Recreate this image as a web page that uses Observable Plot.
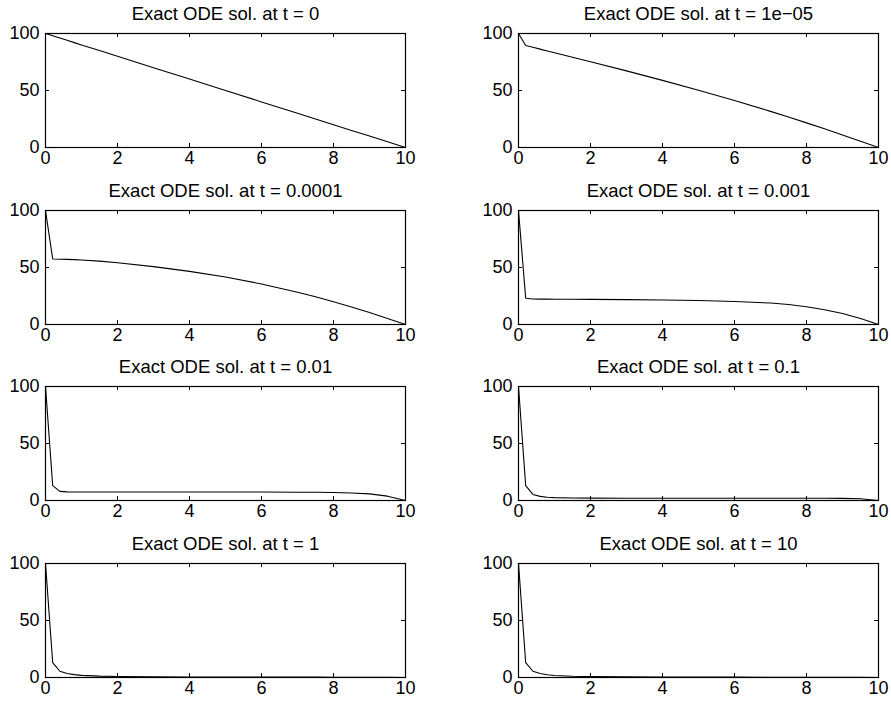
<!DOCTYPE html>
<html><head><meta charset="utf-8">
<script src="https://cdn.jsdelivr.net/npm/d3@7"></script>
<script src="https://cdn.jsdelivr.net/npm/@observablehq/plot@0.6"></script>
<style>
body{margin:0;background:#fff}
#chart{position:relative;width:891px;height:707px;font-family:"Liberation Sans",Arial,Helvetica,sans-serif}
#chart svg{position:absolute}
</style>
</head><body><div id="chart"></div>
<script>
// shared x grid (position along the rod)
const xPos = [0, 0.2, 0.4, 0.6, 0.8, 1, 1.5, 2, 3, 4, 5, 6, 7, 7.5, 8, 8.5, 9, 9.5, 10];

const titles = [
  "Exact ODE sol. at t = 0",
  "Exact ODE sol. at t = 1e\u221205",
  "Exact ODE sol. at t = 0.0001",
  "Exact ODE sol. at t = 0.001",
  "Exact ODE sol. at t = 0.01",
  "Exact ODE sol. at t = 0.1",
  "Exact ODE sol. at t = 1",
  "Exact ODE sol. at t = 10"
];

const u_t0     = [100, 98, 96, 94, 92, 90, 85, 80, 70, 60, 50, 40, 30, 25, 20, 15, 10, 5, 0];
const u_t1em5  = [100, 89.5, 87.9, 86.3, 84.7, 83.1, 79.2, 75.2, 67.2, 58.9, 50.3, 41.3, 31.7, 26.7, 21.6, 16.4, 11, 5.5, 0];
const u_t1em4  = [100, 57.5, 57.3, 57.1, 56.9, 56.6, 55.6, 54.2, 50.8, 46.6, 41.6, 35.6, 28.3, 24.3, 20, 15.4, 10.5, 5.3, 0];
const u_t1em3  = [100, 23, 22.4, 22.3, 22.3, 22.2, 22.1, 22, 21.8, 21.5, 21, 20.2, 18.8, 17.5, 15.6, 13, 9.6, 5.2, 0];
const u_t1em2  = [100, 13, 8, 7.6, 7.5, 7.5, 7.5, 7.5, 7.5, 7.5, 7.5, 7.4, 7.3, 7.2, 7.0, 6.6, 5.8, 3.8, 0];
const u_t1em1  = [100, 13, 5.3, 3.6, 2.9, 2.5, 2.2, 2.1, 2, 2, 2, 2, 2, 2, 2, 2, 1.9, 1.5, 0];
const u_t1     = [100, 13, 5.5, 3.5, 2.5, 1.9, 1.2, 0.9, 0.6, 0.45, 0.4, 0.35, 0.3, 0.3, 0.25, 0.2, 0.2, 0.1, 0];
const u_t10    = [100, 13, 5.5, 3.5, 2.4, 1.8, 1.1, 0.8, 0.55, 0.42, 0.35, 0.3, 0.27, 0.25, 0.22, 0.2, 0.15, 0.1, 0];

const series = [u_t0, u_t1em5, u_t1em4, u_t1em3, u_t1em2, u_t1em1, u_t1, u_t10];

const xTicks = [0, 2, 4, 6, 8, 10];
const yTicks = [0, 50, 100];

const chart = document.getElementById("chart");
const font = '"Liberation Sans",Arial,Helvetica,sans-serif';
const H = 177, mT = 33, mB = 30, inner = H - mT - mB, tk = 4;

series.forEach((ys, i) => {
  const col = i % 2, row = Math.floor(i / 2);
  const width = col ? 446 : 445;
  const marginLeft = col ? 73 : 45;
  const marginRight = col ? 13 : 40;
  const iw = width - marginLeft - marginRight;
  const data = xPos.map((xv, j) => ({x: xv, y: ys[j]}));
  const svg = Plot.plot({
    width, height: H, marginTop: mT, marginBottom: mB, marginLeft, marginRight,
    style: {fontFamily: font, fontSize: "18px", color: "black", background: "white", overflow: "visible"},
    x: {domain: [0, 10], label: null},
    y: {domain: [0, 100], label: null},
    marks: [
      Plot.tickX(xTicks, {x: d => d, insetTop: inner - tk, stroke: "black"}),
      Plot.tickX(xTicks, {x: d => d, insetBottom: inner - tk, stroke: "black"}),
      Plot.tickY(yTicks, {y: d => d, insetRight: iw - tk, stroke: "black"}),
      Plot.tickY(yTicks, {y: d => d, insetLeft: iw - tk, stroke: "black"}),
      Plot.axisX({ticks: xTicks, tickSize: 0, tickPadding: 4, fontSize: 18}),
      Plot.axisY({ticks: yTicks, tickSize: 0, tickPadding: 6, fontSize: 18}),
      Plot.lineY(data, {x: "x", y: "y", stroke: "black", strokeWidth: 1.1}),
      Plot.frame({stroke: "black", strokeWidth: 1.2}),
      Plot.text([titles[i]], {text: d => d, frameAnchor: "top", dy: -27, fontSize: 18.5, fill: "black"})
    ]
  });
  svg.style.left = (col ? 445 : 0) + "px";
  svg.style.top = Math.round(row * 176.7) + "px";
  chart.appendChild(svg);
});
</script>
</body></html>
